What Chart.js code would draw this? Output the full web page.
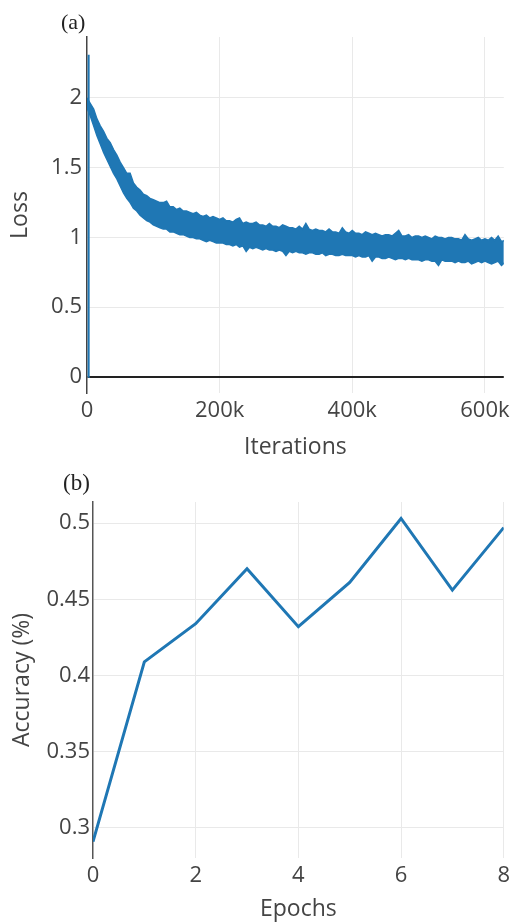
<!DOCTYPE html>
<html>
<head>
<meta charset="utf-8">
<script src="https://cdn.jsdelivr.net/npm/chart.js@4.4.0/dist/chart.umd.min.js"></script>
<style>
    body { margin: 0; background: #fff; width: 515px; height: 924px; position: relative; overflow: hidden; }
    canvas { position: absolute; left: 0; }
    .tag { position: absolute; font-family: "Liberation Serif", "Times New Roman", serif; color: #222; line-height: 1; }
</style>
</head>
<body>
<canvas id="lossChart" width="515" height="470" style="top:0"></canvas>
<canvas id="accChart" width="515" height="454" style="top:470px"></canvas>
<div class="tag" style="left:61px; top:11px; font-size:22px;">(a)</div>
<div class="tag" style="left:63px; top:471px; font-size:23px;">(b)</div>
<script>
// (a) loss band, iterations in thousands
const iterK = [
    0, 5, 10, 15, 20, 25, 30, 35, 40, 45,
    50, 55, 60, 65, 70, 75, 80, 85, 90, 95,
    100, 105, 110, 115, 120, 125, 130, 135, 140, 145,
    150, 155, 160, 165, 170, 175, 180, 185, 190, 195,
    200, 205, 210, 215, 220, 225, 230, 235, 240, 245,
    250, 255, 260, 265, 270, 275, 280, 285, 290, 295,
    300, 305, 310, 315, 320, 325, 330, 335, 340, 345,
    350, 355, 360, 365, 370, 375, 380, 385, 390, 395,
    400, 405, 410, 415, 420, 425, 430, 435, 440, 445,
    450, 455, 460, 465, 470, 475, 480, 485, 490, 495,
    500, 505, 510, 515, 520, 525, 530, 535, 540, 545,
    550, 555, 560, 565, 570, 575, 580, 585, 590, 595,
    600, 605, 610, 615, 620, 625, 630
];
// top edge of the noisy loss trace
const lossUpper = [
    2.00, 1.96, 1.92, 1.85, 1.80, 1.76, 1.71, 1.68, 1.63, 1.59,
    1.54, 1.50, 1.46, 1.46, 1.39, 1.36, 1.34, 1.31, 1.30, 1.28,
    1.27, 1.26, 1.25, 1.25, 1.26, 1.22, 1.22, 1.20, 1.21, 1.19,
    1.19, 1.18, 1.17, 1.18, 1.16, 1.15, 1.16, 1.14, 1.15, 1.14,
    1.13, 1.14, 1.12, 1.12, 1.11, 1.13, 1.14, 1.10, 1.11, 1.10,
    1.10, 1.11, 1.09, 1.09, 1.08, 1.10, 1.08, 1.08, 1.07, 1.09,
    1.08, 1.07, 1.07, 1.06, 1.08, 1.06, 1.10, 1.06, 1.05, 1.06,
    1.05, 1.05, 1.04, 1.06, 1.04, 1.04, 1.03, 1.07, 1.04, 1.03,
    1.05, 1.03, 1.03, 1.02, 1.04, 1.03, 1.02, 1.03, 1.02, 1.01,
    1.02, 1.02, 1.01, 1.03, 1.05, 1.01, 1.01, 1.02, 1.00, 1.01,
    1.01, 1.00, 1.01, 1.00, 0.99, 1.01, 1.00, 1.00, 0.99, 1.00,
    1.00, 0.99, 0.99, 0.98, 1.02, 0.99, 0.98, 0.99, 1.00, 0.98,
    0.99, 0.98, 1.00, 0.98, 1.01, 0.97, 0.98
];
// bottom edge of the noisy loss trace
const lossLower = [
    1.93, 1.87, 1.80, 1.73, 1.67, 1.61, 1.56, 1.51, 1.46, 1.42,
    1.37, 1.32, 1.28, 1.25, 1.21, 1.19, 1.16, 1.14, 1.12, 1.11,
    1.09, 1.08, 1.07, 1.06, 1.06, 1.04, 1.04, 1.03, 1.02, 1.02,
    1.01, 1.00, 1.00, 0.99, 0.99, 0.98, 0.97, 0.98, 0.97, 0.96,
    0.96, 0.96, 0.95, 0.95, 0.94, 0.95, 0.93, 0.94, 0.90, 0.93,
    0.92, 0.93, 0.92, 0.91, 0.92, 0.91, 0.91, 0.90, 0.91, 0.90,
    0.87, 0.90, 0.89, 0.90, 0.89, 0.89, 0.88, 0.89, 0.89, 0.88,
    0.88, 0.89, 0.87, 0.88, 0.88, 0.87, 0.87, 0.88, 0.87, 0.87,
    0.87, 0.86, 0.87, 0.86, 0.86, 0.87, 0.83, 0.86, 0.86, 0.85,
    0.85, 0.86, 0.85, 0.84, 0.85, 0.85, 0.84, 0.85, 0.84, 0.84,
    0.84, 0.83, 0.84, 0.84, 0.83, 0.83, 0.80, 0.84, 0.83, 0.83,
    0.83, 0.82, 0.83, 0.82, 0.82, 0.83, 0.81, 0.82, 0.83, 0.82,
    0.83, 0.82, 0.81, 0.82, 0.83, 0.80, 0.82
];
// first logged points: jump from 0 up to the initial loss
const spikeIterK = [2, 2, 3];
const spikeLoss = [0, 2.31, 2.0];
const lossXTicks = [0, 200000, 400000, 600000];
const lossYTicks = [0, 0.5, 1, 1.5, 2];

// (b) accuracy per epoch
const epochs = [0, 1, 2, 3, 4, 5, 6, 7, 8];
const accuracy = [0.291, 0.409, 0.434, 0.470, 0.432, 0.461, 0.503, 0.456, 0.497];
const accXTicks = [0, 2, 4, 6, 8];
const accYTicks = [0.3, 0.35, 0.4, 0.45, 0.5];

const BLUE = '#1f77b4';
const GRID = '#e9e9e9';

Chart.defaults.font.family = '"Open Sans", sans-serif';
Chart.defaults.color = '#444';

function toPoints(xs, ys, mult) {
    return xs.map((x, i) => ({ x: x * mult, y: ys[i] }));
}

// use our own tick values instead of the generated ones
function fixTicks(values) {
    return scale => { scale.ticks = values.map(v => ({ value: v })); };
}

const plain = v => String(v);

const baseOptions = {
    responsive: false,
    animation: false,
    devicePixelRatio: 1,
    plugins: { legend: { display: false }, tooltip: { enabled: false } }
};

new Chart(document.getElementById('lossChart'), {
    type: 'line',
    data: {
        datasets: [
            {
                data: toPoints(spikeIterK, spikeLoss, 1000),
                borderColor: BLUE,
                borderWidth: 2,
                pointRadius: 0,
                fill: false
            },
            {
                data: toPoints(iterK, lossLower, 1000),
                borderColor: BLUE,
                borderWidth: 1.5,
                pointRadius: 0,
                fill: false
            },
            {
                data: toPoints(iterK, lossUpper, 1000),
                borderColor: BLUE,
                backgroundColor: BLUE,
                borderWidth: 1.5,
                pointRadius: 0,
                fill: '-1'
            }
        ]
    },
    options: {
        ...baseOptions,
        layout: { padding: { top: 37, right: 10, left: 0, bottom: 0 } },
        scales: {
            x: {
                type: 'linear',
                min: 0,
                max: 628500,
                afterBuildTicks: fixTicks(lossXTicks),
                afterFit: s => { s.height = 77; },
                grid: {
                    drawTicks: false,
                    color: ctx => ctx.tick && ctx.tick.value === 0 ? 'rgba(0,0,0,0)' : GRID
                },
                border: { display: false },
                ticks: {
                    padding: 5,
                    font: { size: 22 },
                    callback: v => v === 0 ? '0' : (v / 1000) + 'k'
                },
                title: {
                    display: true,
                    text: 'Iterations',
                    font: { size: 23 },
                    padding: { top: 0, bottom: 9 }
                }
            },
            y: {
                min: -0.115,
                max: 2.437,
                afterBuildTicks: fixTicks(lossYTicks),
                afterFit: s => { s.width = 87; },
                grid: {
                    drawTicks: false,
                    color: ctx => ctx.tick && ctx.tick.value === 0 ? '#222' : GRID,
                    lineWidth: ctx => ctx.tick && ctx.tick.value === 0 ? 2 : 1
                },
                border: { display: true, color: '#444', width: 1.5 },
                ticks: { padding: 5, font: { size: 22 }, callback: plain },
                title: {
                    display: true,
                    text: 'Loss',
                    font: { size: 23 },
                    padding: { top: 7, bottom: 0 }
                }
            }
        }
    }
});

new Chart(document.getElementById('accChart'), {
    type: 'line',
    data: {
        datasets: [{
            data: toPoints(epochs, accuracy, 1),
            borderColor: BLUE,
            borderWidth: 3,
            pointRadius: 0,
            fill: false
        }]
    },
    options: {
        ...baseOptions,
        layout: { padding: { top: 32, right: 9, left: 0, bottom: 0 } },
        scales: {
            x: {
                type: 'linear',
                min: 0,
                max: 8,
                afterBuildTicks: fixTicks(accXTicks),
                afterFit: s => { s.height = 66; },
                grid: {
                    drawTicks: false,
                    color: ctx => ctx.tick && ctx.tick.value === 0 ? 'rgba(0,0,0,0)' : GRID
                },
                border: { display: false },
                ticks: { padding: 5, font: { size: 22 }, callback: plain },
                title: {
                    display: true,
                    text: 'Epochs',
                    font: { size: 23 },
                    padding: { top: 0, bottom: 1 }
                }
            },
            y: {
                min: 0.2803,
                max: 0.5138,
                afterBuildTicks: fixTicks(accYTicks),
                afterFit: s => { s.width = 93; },
                grid: { drawTicks: false, color: GRID },
                border: { display: true, color: '#555', width: 1.5 },
                ticks: { padding: 3, font: { size: 22 }, callback: plain },
                title: {
                    display: true,
                    text: 'Accuracy (%)',
                    font: { size: 23 },
                    padding: { top: 9, bottom: 0 }
                }
            }
        }
    }
});
</script>
</body>
</html>
